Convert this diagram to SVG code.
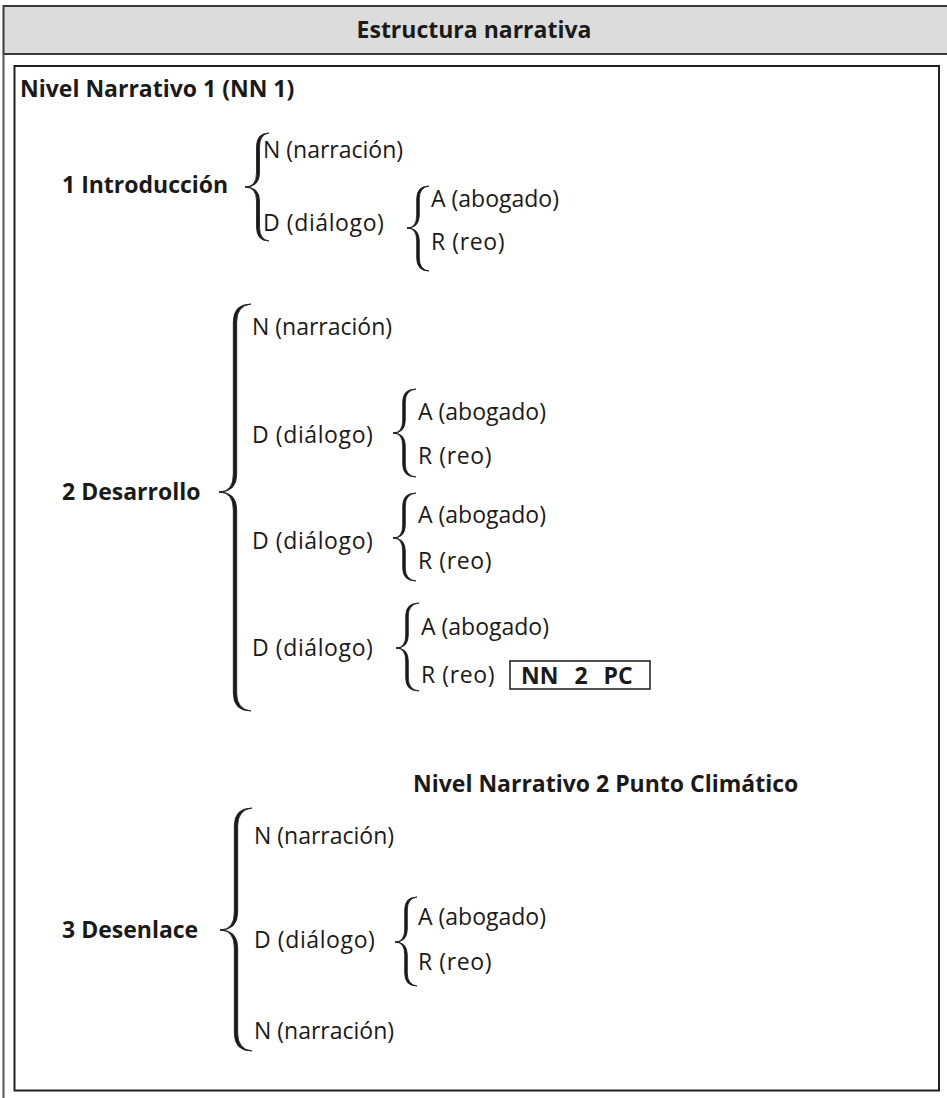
<svg xmlns="http://www.w3.org/2000/svg" width="947" height="1098" viewBox="0 0 947 1098">
<style>
text{font-family:"Open Sans","Noto Sans","Liberation Sans",sans-serif;font-size:23px;fill:#1a1a1a}
.b{font-weight:bold}
.w{letter-spacing:0.6px}
.br{fill:#1a1a1a;stroke:#1a1a1a;stroke-width:0.8;stroke-linejoin:round}
</style>
<g id="frame">
<rect x="3.5" y="6" width="960" height="48" fill="#dcdcdd" stroke="#3a3a3a" stroke-width="2"/>
<line x1="3.5" y1="54" x2="3.5" y2="1098" stroke="#555" stroke-width="2"/>
<rect x="14.5" y="66" width="924.5" height="1024.5" fill="#fff" stroke="#222" stroke-width="2"/>
</g>
<g id="title"><text class="b" x="474" y="38" text-anchor="middle">Estructura narrativa</text></g>
<g id="nn1"><text class="b" x="20" y="97">Nivel Narrativo 1 (NN 1)</text></g>
<g id="connectors">
<path class="br" d="M269,133 Q256.5,133 256.5,147 L256.5,173 Q256.5,187 245,187 Q256.5,187 256.5,201 L256.5,227 Q256.5,241 269,241 Q259.5,239.5 259.5,227 L259.5,201 Q259.5,187 245,187 Q259.5,187 259.5,173 L259.5,147 Q259.5,134.5 269,133 Z"/>
<path class="br" d="M429,186 Q416.7,186 416.7,199 L416.7,215 Q416.7,228 407,228 Q416.7,228 416.7,241 L416.7,258 Q416.7,271 429,271 Q419.3,269.7 419.3,258 L419.3,241 Q419.3,228 407,228 Q419.3,228 419.3,215 L419.3,199 Q419.3,187.3 429,186 Z"/>
<path class="br" d="M251,304 Q233.3,304 233.3,322 L233.3,474 Q233.3,492 219,492 Q233.3,492 233.3,510 L233.3,693 Q233.3,711 251,711 Q236.7,709.3 236.7,693 L236.7,510 Q236.7,492 219,492 Q236.7,492 236.7,474 L236.7,322 Q236.7,305.7 251,304 Z"/>
<path class="br" d="M416,389 Q402.7,389 402.7,402 L402.7,420 Q402.7,433 393,433 Q402.7,433 402.7,446 L402.7,464 Q402.7,477 416,477 Q405.3,475.7 405.3,464 L405.3,446 Q405.3,433 393,433 Q405.3,433 405.3,420 L405.3,402 Q405.3,390.3 416,389 Z"/>
<path class="br" d="M416,493 Q402.7,493 402.7,506 L402.7,525 Q402.7,538 393,538 Q402.7,538 402.7,551 L402.7,568 Q402.7,581 416,581 Q405.3,579.7 405.3,568 L405.3,551 Q405.3,538 393,538 Q405.3,538 405.3,525 L405.3,506 Q405.3,494.3 416,493 Z"/>
<path class="br" d="M419,603 Q405.7,603 405.7,616 L405.7,635 Q405.7,648 396,648 Q405.7,648 405.7,661 L405.7,678 Q405.7,691 419,691 Q408.3,689.7 408.3,678 L408.3,661 Q408.3,648 396,648 Q408.3,648 408.3,635 L408.3,616 Q408.3,604.3 419,603 Z"/>
<path class="br" d="M252,808 Q234.3,808 234.3,826 L234.3,912 Q234.3,930 220,930 Q234.3,930 234.3,948 L234.3,1033 Q234.3,1051 252,1051 Q237.7,1049.3 237.7,1033 L237.7,948 Q237.7,930 220,930 Q237.7,930 237.7,912 L237.7,826 Q237.7,809.7 252,808 Z"/>
<path class="br" d="M417,897 Q404.7,897 404.7,910 L404.7,929 Q404.7,942 395,942 Q404.7,942 404.7,955 L404.7,973 Q404.7,986 417,986 Q407.3,984.7 407.3,973 L407.3,955 Q407.3,942 395,942 Q407.3,942 407.3,929 L407.3,910 Q407.3,898.3 417,897 Z"/>
</g>
<g id="sec1">
<text class="b" x="62" y="193">1 Introducción</text>
<text x="263" y="158">N (narración)</text>
<text class="w" x="263" y="231">D (diálogo)</text>
<text x="431" y="207">A (abogado)</text>
<text class="w" x="431" y="250">R (reo)</text>
</g>
<g id="sec2">
<text class="b" x="62" y="500">2 Desarrollo</text>
<text x="252" y="335">N (narración)</text>
<text class="w" x="252" y="443">D (diálogo)</text>
<text x="418" y="420">A (abogado)</text>
<text class="w" x="418" y="464">R (reo)</text>
<text class="w" x="252" y="549">D (diálogo)</text>
<text x="418" y="523">A (abogado)</text>
<text class="w" x="418" y="569">R (reo)</text>
<text class="w" x="252" y="656">D (diálogo)</text>
<text x="421" y="635">A (abogado)</text>
<text class="w" x="421" y="683">R (reo)</text>
</g>
<g id="nn2pc">
<rect x="510" y="661" width="140" height="28" fill="none" stroke="#1a1a1a" stroke-width="1.5"/>
<text class="b" x="521" y="684">NN<tspan dx="16">2</tspan><tspan dx="16">PC</tspan></text>
</g>
<g id="nn2"><text class="b" x="413" y="792">Nivel Narrativo 2 Punto Climático</text></g>
<g id="sec3">
<text class="b" x="62" y="938">3 Desenlace</text>
<text x="254" y="844">N (narración)</text>
<text class="w" x="254" y="948">D (diálogo)</text>
<text x="418" y="925">A (abogado)</text>
<text class="w" x="418" y="970">R (reo)</text>
<text x="254" y="1039">N (narración)</text>
</g>
</svg>
